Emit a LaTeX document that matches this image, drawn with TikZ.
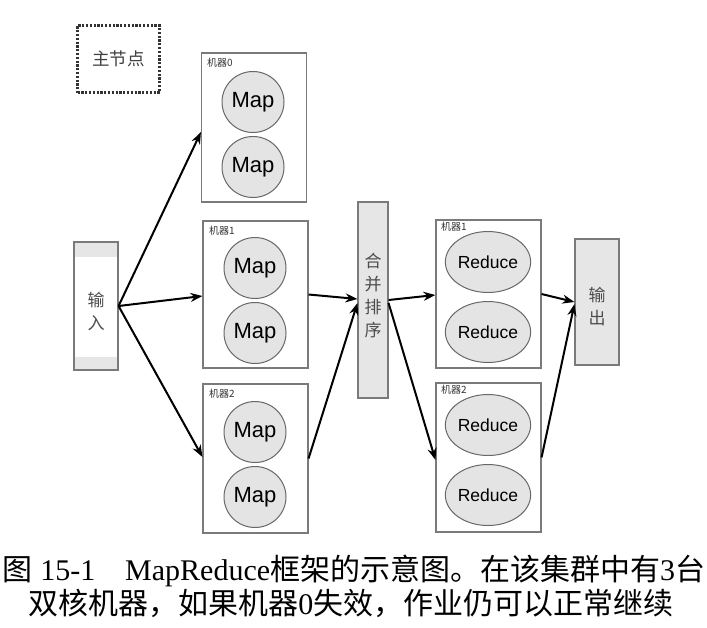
\documentclass[tikz,border=0pt]{standalone}
\usepackage{fontspec}
\setmainfont{Liberation Serif}
\newfontfamily\cjk{Noto Sans CJK SC}
\newfontfamily\arial{Liberation Sans}
\usetikzlibrary{arrows.meta}
\definecolor{boxline}{HTML}{7A7A7A}
\definecolor{cellfill}{HTML}{E4E4E4}
\definecolor{barfill}{HTML}{E6E6E6}
\tikzset{
  machine/.style={draw=boxline,line width=1.1pt,fill=white,minimum width=105pt,minimum height=148pt,inner sep=0pt},
  mapcell/.style={ellipse,draw=boxline!85!black,line width=1pt,fill=cellfill,minimum width=62pt,minimum height=61pt,inner sep=0pt,font=\arial\fontsize{22}{22}\selectfont},
  redcell/.style={ellipse,draw=boxline!85!black,line width=1pt,fill=cellfill,minimum width=84pt,minimum height=61pt,inner sep=0pt,font=\arial\fontsize{17.5}{17.5}\selectfont},
  bar/.style={draw=boxline,line width=1.1pt,fill=barfill,inner sep=0pt},
  mlabel/.style={anchor=north west,inner sep=0pt,font=\cjk\fontsize{10}{10}\selectfont,text=black!80},
  bartext/.style={font=\cjk\fontsize{17}{23}\selectfont,text=black!70,align=center},
  flow/.style={-{Stealth[length=12pt,width=9pt]},line width=2pt,black},
}
\usetikzlibrary{shapes.geometric}
\begin{document}
\begin{tikzpicture}[x=1pt,y=-1pt]
\useasboundingbox (0,0) rectangle (707,627);
\fill[white] (0,0) rectangle (707,627);

% master
\node[draw=black!80,line width=2.2pt,dash pattern=on 2.2pt off 1.6pt,minimum width=82pt,minimum height=67pt,font=\cjk\fontsize{17.5}{17.5}\selectfont,text=black!75] (master) at (118.5,59) {主节点};

% input
\node[bar,fill=barfill,minimum width=44pt,minimum height=128pt] (inp) at (96,306) {};
\fill[white] (74.6,257) rectangle (117.4,357);
\node[bartext] (inptxt) at (96,311) {输\\入};

% map machines
\node[machine,minimum height=149pt] (m0) at (254,127.5) {};
\node[mlabel] (m0l) at (207,58) {机器0};
\node[mapcell] (m0a) at (253,102) {Map};
\node[mapcell] (m0b) at (253,167) {Map};

\node[machine,minimum height=147pt] (m1) at (255.5,294.5) {};
\node[mlabel] (m1l) at (209,226) {机器1};
\node[mapcell] (m1a) at (255,268) {Map};
\node[mapcell] (m1b) at (255,333) {Map};

\node[machine,minimum height=149pt] (m2) at (255.5,458.5) {};
\node[mlabel] (m2l) at (209,389) {机器2};
\node[mapcell] (m2a) at (255,432) {Map};
\node[mapcell] (m2b) at (255,497) {Map};

% merge sort
\node[bar,minimum width=30pt,minimum height=196pt] (merge) at (373,300) {};
\node[bartext] (mergetxt) at (373,296) {合\\并\\排\\序};

% reduce machines
\node[machine,minimum height=148pt] (r1) at (488.5,294) {};
\node[mlabel] (r1l) at (441,222) {机器1};
\node[redcell] (r1a) at (488,262) {Reduce};
\node[redcell] (r1b) at (488,332) {Reduce};

\node[machine,minimum height=149pt] (r2) at (488.5,457.5) {};
\node[mlabel] (r2l) at (441,385) {机器2};
\node[redcell] (r2a) at (488,425) {Reduce};
\node[redcell] (r2b) at (488,495) {Reduce};

% output
\node[bar,minimum width=44pt,minimum height=126pt] (outp) at (597,302) {};
\node[bartext] (outtxt) at (597,306) {输\\出};

% arrows
\draw[flow] (inp.east) -- ([yshift=-4.5pt]m0.west);
\draw[flow] (inp.east) -- ([yshift=-1.5pt]m1.west);
\draw[flow] (inp.east) -- ([yshift=1.5pt]m2.west);
\draw[flow] (m1.east) -- ([yshift=1pt]merge.west);
\draw[flow] (m2.east) -- ([yshift=-3pt]merge.west);
\draw[flow] (merge.east) -- ([yshift=-1pt]r1.west);
\draw[flow] ([yshift=-3pt]merge.east) -- ([yshift=-2.5pt]r2.west);
\draw[flow] (r1.east) -- (outp.west);
\draw[flow] (r2.east) -- ([yshift=-2pt]outp.west);

% caption
\node[inner sep=0pt,font=\fontsize{30}{30}\selectfont] (cap1) at (354,571) {{\cjk 图}~15-1\hspace{1em}MapReduce{\cjk 框架的示意图。在该集群中有}3{\cjk 台}};
\node[inner sep=0pt,font=\fontsize{30}{30}\selectfont] (cap2) at (351,603) {{\cjk 双核机器，如果机器}0{\cjk 失效，作业仍可以正常继续}};
\end{tikzpicture}
\end{document}
